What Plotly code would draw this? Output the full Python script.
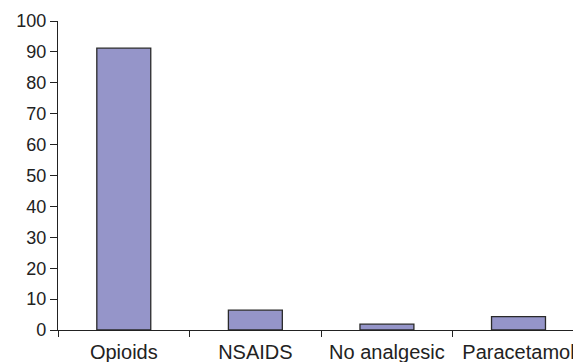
import plotly.graph_objects as go

# Analgesic use (%) by category
categories = ["Opioids", "NSAIDS", "No analgesic", "Paracetamol"]
values = [91.2, 6.4, 1.9, 4.3]
y_ticks = list(range(0, 101, 10))

W, H = 573, 362
left, top, bottom = 57.5, 20.5, 31.5
cat_px = 131.7  # pixel width of one category slot
x_max = -0.5 + (W - left) / cat_px

family = "Liberation Sans, Arial, sans-serif"
ink = "#222222"

fig = go.Figure(
    go.Bar(
        x=categories,
        y=values,
        marker=dict(color="#9595C9", line=dict(color="#2a2a2a", width=1.3)),
        width=0.41,
    )
)

fig.update_layout(
    width=W,
    height=H,
    margin=dict(l=left, r=0, t=top, b=bottom, pad=0, autoexpand=False),
    paper_bgcolor="white",
    plot_bgcolor="white",
    font=dict(family=family, size=17, color=ink),
    showlegend=False,
)

fig.update_xaxes(
    type="category",
    range=[-0.5, x_max],
    automargin=False,
    showline=True,
    linecolor=ink,
    linewidth=1.3,
    ticks="outside",
    tickson="boundaries",
    ticklen=6,
    tickcolor=ink,
    tickwidth=1.3,
    ticklabelstandoff=4,
    showgrid=False,
    zeroline=False,
    tickfont=dict(family=family, size=20, color=ink),
)

fig.update_yaxes(
    range=[0, 100],
    tickvals=y_ticks,
    automargin=False,
    showline=True,
    linecolor=ink,
    linewidth=1.3,
    ticks="outside",
    ticklen=7,
    tickcolor=ink,
    tickwidth=1.3,
    showgrid=False,
    zeroline=False,
    tickfont=dict(family=family, size=18, color=ink),
)

fig.write_html("out.html")
